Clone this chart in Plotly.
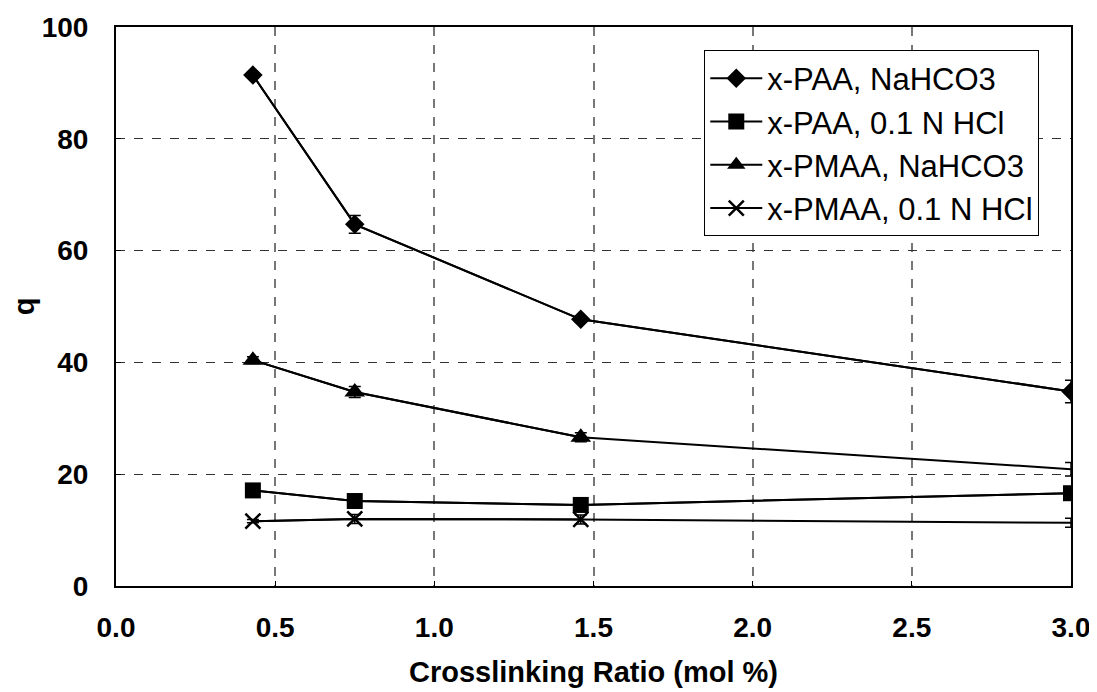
import plotly.graph_objects as go

ratio = [0.43, 0.75, 1.46, 3.0]

paa_nahco3 = [91.4, 64.7, 47.7, 34.8]
paa_nahco3_err = [0.5, 1.6, 0.5, 2.0]

paa_hcl = [17.1, 15.2, 14.5, 16.6]
paa_hcl_err = [0.4, 0.6, 0.6, 0.4]

pmaa_nahco3 = [40.4, 34.7, 26.6, 20.9]
pmaa_nahco3_err = [0.6, 1.0, 0.8, 1.2]

pmaa_hcl = [11.6, 12.0, 11.9, 11.3]
pmaa_hcl_err = [0.3, 0.8, 0.8, 0.8]

series_names = ["x-PAA, NaHCO3", "x-PAA, 0.1 N HCl", "x-PMAA, NaHCO3", "x-PMAA, 0.1 N HCl"]

x_ticks = [0.0, 0.5, 1.0, 1.5, 2.0, 2.5, 3.0]
x_tick_labels = ["0.0", "0.5", "1.0", "1.5", "2.0", "2.5", "3.0"]
y_ticks = [0, 20, 40, 60, 80, 100]

FONT = "Arial, Liberation Sans, sans-serif"

fig = go.Figure()

specs = [
    (series_names[0], paa_nahco3, paa_nahco3_err, dict(symbol="diamond", size=15, color="black"), 4),
    (series_names[1], paa_hcl, paa_hcl_err, dict(symbol="square", size=16, color="black"), 4),
    (series_names[2], pmaa_nahco3, pmaa_nahco3_err, dict(symbol="triangle-up", size=18, color="black"), 3),
    (series_names[3], pmaa_hcl, pmaa_hcl_err, dict(symbol="x-thin", size=15, color="black",
                                                     line=dict(width=2.5, color="black")), 3),
]

for name, ys, errs, marker, nmark in specs:
    # full line with error bars
    fig.add_trace(go.Scatter(
        x=ratio, y=ys, mode="lines", showlegend=False, hoverinfo="skip",
        line=dict(color="black", width=2),
        error_y=dict(type="data", array=errs, visible=True, color="black", thickness=1.5, width=6),
    ))
    # markers (last point of some series has no marker in the original)
    fig.add_trace(go.Scatter(
        x=ratio[:nmark], y=ys[:nmark], mode="lines+markers", name=name,
        line=dict(color="black", width=2), marker=marker,
    ))

fig.update_layout(
    width=1089, height=684,
    margin=dict(l=108, r=26, t=19, b=106, autoexpand=False),
    paper_bgcolor="white", plot_bgcolor="white",
    font=dict(family=FONT, color="black", size=24),
    legend=dict(
        x=0.616, y=0.958, xanchor="left", yanchor="top",
        bordercolor="black", borderwidth=1, bgcolor="white",
        font=dict(family=FONT, size=31, color="black"),
        tracegroupgap=0, itemwidth=52,
    ),
    xaxis=dict(
        range=[0, 3.0], tickmode="array", tickvals=x_ticks, ticktext=x_tick_labels,
        showgrid=True, gridcolor="#777777", griddash="dash", gridwidth=1.5,
        showline=True, linecolor="black", linewidth=2, mirror=True,
        ticks="inside", ticklen=5, tickcolor="black",
        tickfont=dict(family=FONT, size=28, weight="bold"),
        ticklabelstandoff=15, automargin=False,
        zeroline=False,
        title=dict(text="Crosslinking Ratio (mol %)", font=dict(family=FONT, size=29, weight="bold"), standoff=20),
    ),
    yaxis=dict(
        range=[0, 100], tickmode="array", tickvals=y_ticks,
        showgrid=True, gridcolor="#333333", griddash="dash", gridwidth=1.2,
        showline=True, linecolor="black", linewidth=2, mirror=True,
        ticks="inside", ticklen=5, tickcolor="black",
        tickfont=dict(family=FONT, size=28, weight="bold"),
        ticklabelstandoff=20, automargin=False,
        zeroline=False,
        title=dict(text="q", font=dict(family=FONT, size=29, weight="bold"), standoff=40),
    ),
)

fig.write_html("out.html")
